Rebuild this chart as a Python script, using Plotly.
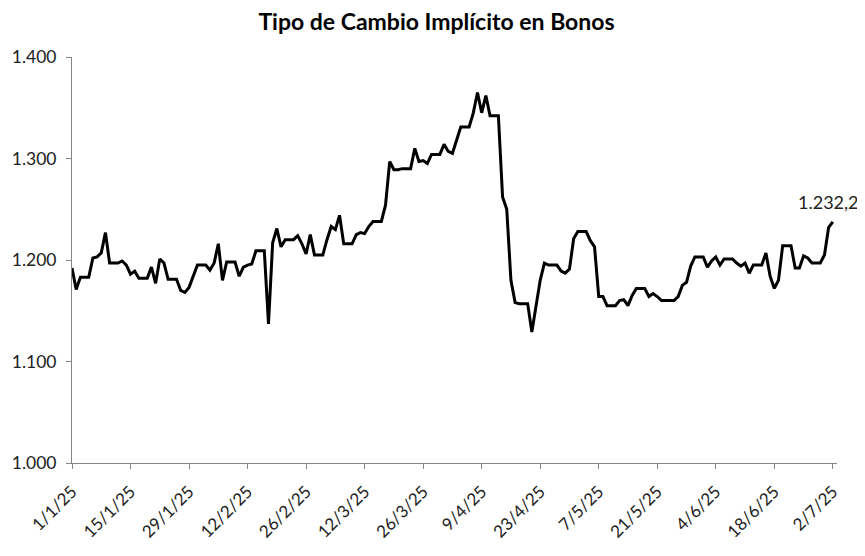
import datetime as dt
import plotly.graph_objects as go

start_date = "2025-01-01"
values = [
    1192, 1171, 1183, 1183, 1183, 1202, 1203, 1207, 1227, 1197,
    1197, 1197, 1199, 1195, 1186, 1189, 1182, 1182, 1182, 1193,
    1177, 1201, 1197, 1181, 1181, 1181, 1170, 1168, 1173, 1184,
    1195, 1195, 1195, 1190, 1197, 1216, 1180, 1198, 1198, 1198,
    1184, 1193, 1195, 1196, 1209, 1209, 1209, 1137, 1217, 1231,
    1213, 1220, 1220, 1220, 1224, 1216, 1206, 1225, 1205, 1205,
    1205, 1220, 1233, 1230, 1244, 1216, 1216, 1216, 1225, 1227,
    1226, 1233, 1238, 1238, 1238, 1254, 1297, 1289, 1289, 1290,
    1290, 1290, 1310, 1297, 1298, 1295, 1304, 1304, 1304, 1314,
    1307, 1305, 1318, 1331, 1331, 1331, 1345, 1365, 1345, 1362,
    1342, 1342, 1342, 1262, 1250, 1180, 1158, 1157, 1157, 1157,
    1129, 1154, 1180, 1197, 1195, 1195, 1195, 1189, 1187, 1191,
    1221, 1228, 1228, 1228, 1219, 1213, 1164, 1164, 1155, 1155,
    1155, 1160, 1161, 1155, 1165, 1172, 1172, 1172, 1164, 1167,
    1164, 1160, 1160, 1160, 1160, 1164, 1175, 1178, 1194, 1203,
    1203, 1203, 1193, 1199, 1203, 1195, 1201, 1201, 1201, 1197,
    1194, 1197, 1187, 1195, 1195, 1195, 1207, 1184, 1172, 1180,
    1214, 1214, 1214, 1192, 1192, 1204, 1202, 1197, 1197, 1197,
    1205, 1232.2, 1237.5,
]
label_index = 181
label_text = "1.232,2"
title_text = "Tipo de Cambio Implícito en Bonos"

d0 = dt.date.fromisoformat(start_date)
dates = [d0 + dt.timedelta(days=i) for i in range(len(values))]

fig = go.Figure()
fig.add_trace(go.Scatter(
    x=dates, y=values, mode="lines",
    line=dict(color="black", width=3), hoverinfo="x+y",
))
fig.add_annotation(
    x=dates[label_index], y=values[label_index], text=label_text,
    showarrow=False, yshift=25, font=dict(family="Lato", size=18, color="#222"),
)

fig.update_layout(
    width=857, height=548,
    margin=dict(l=64, r=28, t=49, b=93),
    paper_bgcolor="white", plot_bgcolor="white",
    separators=",.",
    showlegend=False,
    title=dict(text="<b>" + title_text + "</b>", x=0.5, xanchor="center",
               y=0.974, yanchor="middle",
               font=dict(family="Lato", size=23, color="black")),
    xaxis=dict(
        type="date", automargin=False,
        range=[dates[0], d0 + dt.timedelta(days=183)],
        tick0=start_date, dtick=14 * 86400000,
        tickformat="%-d/%-m/%y", tickangle=-45,
        showgrid=False, zeroline=False,
        showline=True, linecolor="#868686", linewidth=1,
        ticks="outside", ticklen=5, tickcolor="#868686",
        tickfont=dict(family="Lato", size=17, color="#222"),
        ticklabelstandoff=6,
    ),
    yaxis=dict(
        range=[1000, 1400], dtick=100, tickformat=",.0f", automargin=False,
        showgrid=False, zeroline=False,
        showline=True, linecolor="#868686", linewidth=1,
        ticks="outside", ticklen=5, tickcolor="#868686",
        tickfont=dict(family="Lato", size=17.5, color="#222"),
        ticklabelstandoff=6,
    ),
)
fig.write_html("out.html")
